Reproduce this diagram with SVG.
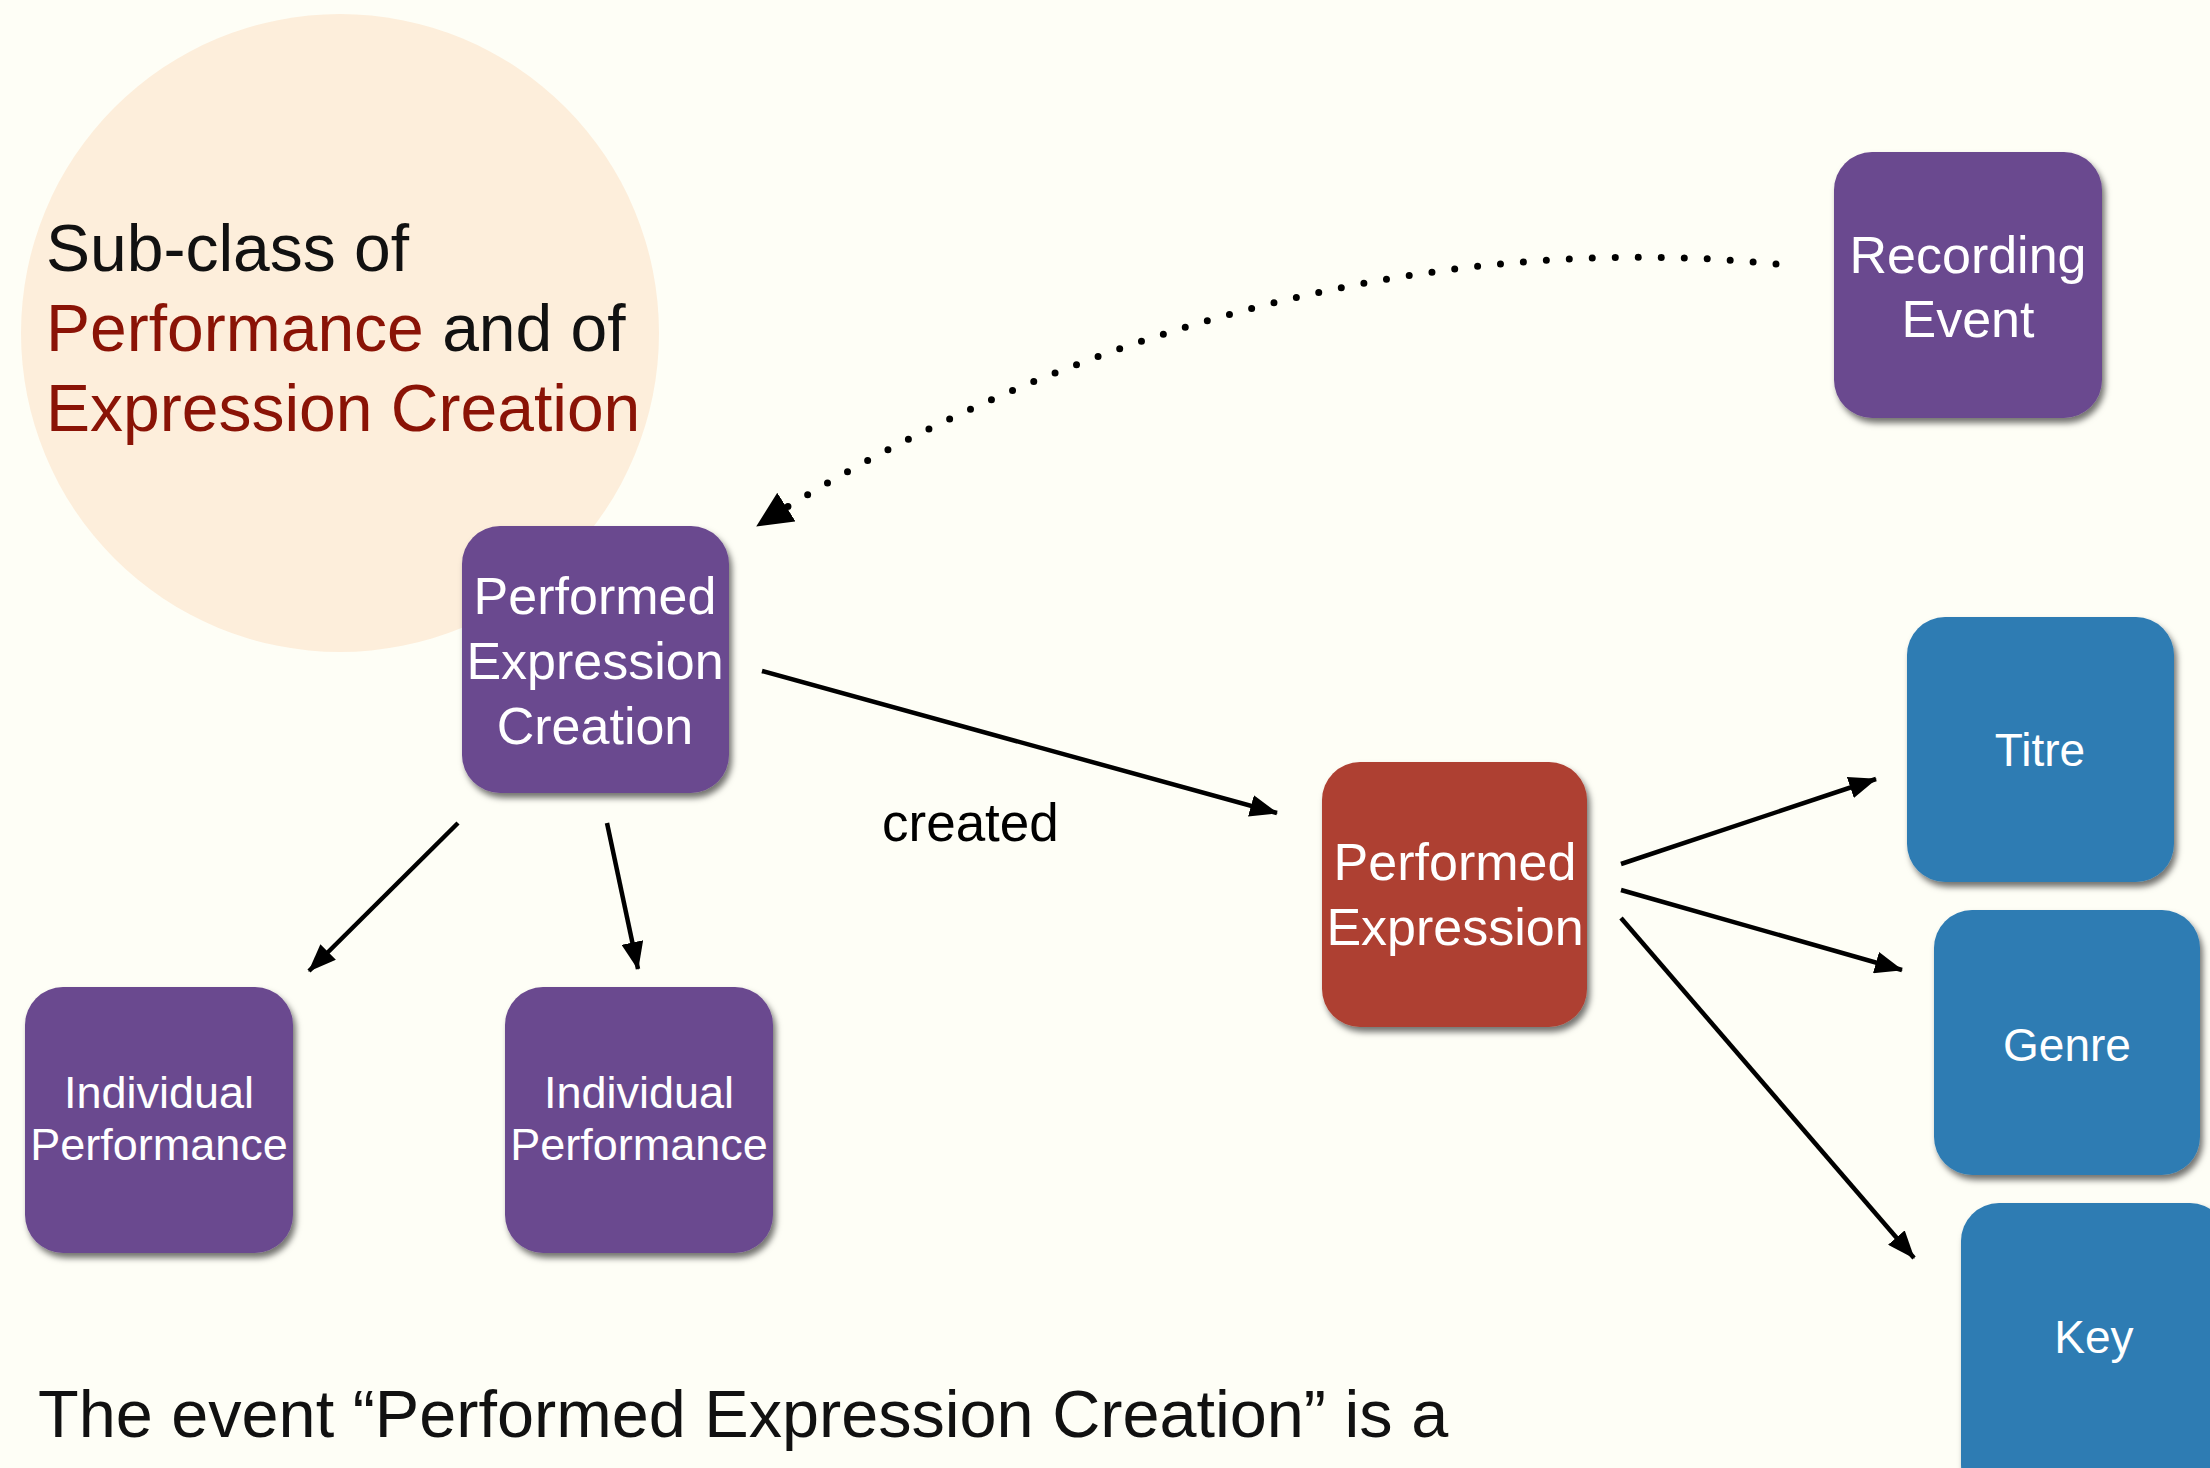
<svg xmlns="http://www.w3.org/2000/svg" width="2210" height="1468" viewBox="0 0 2210 1468">
<style>
.node{stroke:none;filter:url(#sh)}
.pur{fill:#6b4a8f}
.red{fill:#ae4032}
.blu{fill:#2f7cb3}
.nt{font-family:"Liberation Sans",Arial,sans-serif;fill:#ffffff;text-anchor:middle;font-weight:300}
.big{font-size:52px}
.sm{font-size:46px}
.ind{font-size:45px}
.conn{stroke:#000;stroke-width:4.5;fill:none;marker-end:url(#ah)}
.cap{font-family:"Liberation Sans",Arial,sans-serif;font-size:66px;fill:#111}
.dr{fill:#8a1306}
</style>
<defs>
<filter id="sh" x="-10%" y="-10%" width="130%" height="130%">
<feDropShadow dx="3" dy="5" stdDeviation="3" flood-color="#000" flood-opacity="0.55"/>
</filter>
<marker id="ah" markerUnits="userSpaceOnUse" markerWidth="28" markerHeight="22" refX="27" refY="11" orient="auto">
<path d="M0,0 L28,11 L0,22 z" fill="#000"/>
</marker>
<marker id="ahd" markerUnits="userSpaceOnUse" markerWidth="36" markerHeight="34" refX="35" refY="17" orient="auto">
<path d="M0,0 L36,17 L0,34 z" fill="#000"/>
</marker>
</defs>
<rect x="0" y="0" width="2210" height="1468" fill="#fefef6"/>
<circle cx="340" cy="333" r="319" fill="#fdeedb"/>
<g id="subclass-note">
<text class="cap" x="46" y="271" font-weight="300">Sub-class of</text>
<text class="cap" x="46" y="351"><tspan class="dr">Performance</tspan> and of</text>
<text class="cap dr" x="46" y="431">Expression Creation</text>
</g>
<g id="connectors">
<path d="M1776,264 C1440,230 1070,325 757,526" stroke="#000" stroke-width="7" stroke-linecap="round" stroke-dasharray="0 23" fill="none" marker-end="url(#ahd)"/>
<line class="conn" x1="762" y1="671" x2="1277" y2="813"/>
<line class="conn" x1="458" y1="823" x2="309" y2="971"/>
<line class="conn" x1="607" y1="823" x2="638" y2="969"/>
<line class="conn" x1="1621" y1="864" x2="1876" y2="779"/>
<line class="conn" x1="1621" y1="890" x2="1902" y2="970"/>
<line class="conn" x1="1621" y1="918" x2="1914" y2="1258"/>
<text x="882" y="841" font-family="Liberation Sans, Arial, sans-serif" font-size="53" fill="#000">created</text>
</g>
<g id="performed-expression-creation">
<rect class="node pur" x="462" y="526" width="267" height="267" rx="38"/>
<text class="nt big" x="595" y="614">Performed</text>
<text class="nt big" x="595" y="679">Expression</text>
<text class="nt big" x="595" y="744">Creation</text>
</g>
<g id="recording-event">
<rect class="node pur" x="1834" y="152" width="268" height="266" rx="38"/>
<text class="nt big" x="1968" y="273">Recording</text>
<text class="nt big" x="1968" y="337">Event</text>
</g>
<g id="performed-expression">
<rect class="node red" x="1322" y="762" width="265" height="265" rx="38"/>
<text class="nt big" x="1455" y="880">Performed</text>
<text class="nt big" x="1455" y="945">Expression</text>
</g>
<g id="titre">
<rect class="node blu" x="1907" y="617" width="267" height="265" rx="38"/>
<text class="nt sm" x="2040" y="766">Titre</text>
</g>
<g id="genre">
<rect class="node blu" x="1934" y="910" width="266" height="265" rx="38"/>
<text class="nt sm" x="2067" y="1061">Genre</text>
</g>
<g id="key">
<rect class="node blu" x="1961" y="1203" width="267" height="300" rx="38"/>
<text class="nt sm" x="2094" y="1353">Key</text>
</g>
<g id="individual-performance-1">
<rect class="node pur" x="25" y="987" width="268" height="266" rx="38"/>
<text class="nt ind" x="159" y="1108">Individual</text>
<text class="nt ind" x="159" y="1160">Performance</text>
</g>
<g id="individual-performance-2">
<rect class="node pur" x="505" y="987" width="268" height="266" rx="38"/>
<text class="nt ind" x="639" y="1108">Individual</text>
<text class="nt ind" x="639" y="1160">Performance</text>
</g>
<g id="caption">
<text x="38" y="1437" font-family="Liberation Sans, Arial, sans-serif" font-size="66.6" font-weight="300" fill="#111">The event “Performed Expression Creation” is a</text>
</g>
</svg>
